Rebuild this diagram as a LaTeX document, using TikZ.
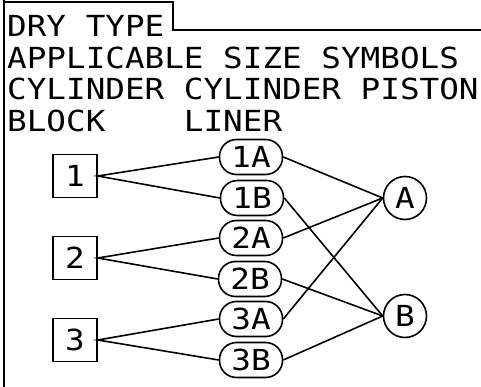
\documentclass[tikz,border=0pt]{standalone}
\usepackage{fontspec}
\newfontfamily\plotter[FakeStretch=1.125]{DejaVu Sans Mono}
\newcommand\lettering{\plotter\fontsize{29pt}{31.5pt}\selectfont}
\tikzset{
  textline/.style={anchor=base west, inner sep=0pt},
  blockbox/.style={draw, line width=1.6pt, minimum width=44pt, minimum height=43pt, inner sep=0pt},
  linerbox/.style={draw, line width=1.6pt, rounded corners=17pt, minimum width=63pt, minimum height=35pt, inner sep=0pt},
  pistonbox/.style={draw, circle, line width=1.6pt, minimum size=43pt, inner sep=0pt},
  wire/.style={line width=1.6pt}
}

\begin{document}
\begin{tikzpicture}[x=1pt, y=-1pt, font=\lettering]
    \useasboundingbox (0,0) rectangle (481,387);
    \draw[line width=2.2pt] (4,0) -- (4,387);
    \draw[line width=1.6pt] (4,2) -- (173,2) -- (173,30) -- (481,30);
    \node[textline] (title) at (7,37) {DRY TYPE};
    \node[textline] (applic) at (7,68.5) {APPLICABLE SIZE SYMBOLS};
    \node[textline] (parts) at (7,100) {CYLINDER CYLINDER PISTON};
    \node[textline] (kinds) at (7,131.5) {BLOCK\ \ \ \ LINER};
    \node[blockbox] (b1) at (75,176) {1};
    \node[blockbox] (b2) at (75,258) {2};
    \node[blockbox] (b3) at (75,340) {3};
    \node[linerbox] (l1a) at (251,157) {1A};
    \node[linerbox] (l1b) at (252,198) {1B};
    \node[linerbox] (l2a) at (251,238) {2A};
    \node[linerbox] (l2b) at (250,279) {2B};
    \node[linerbox] (l3a) at (251,319) {3A};
    \node[linerbox] (l3b) at (251,360) {3B};
    \node[pistonbox] (pa) at (405,198) {A};
    \node[pistonbox] (pb) at (405,316) {B};
    \draw[wire] (l1a.west) -- (b1.east) -- (l1b.west);
    \draw[wire] (l2a.west) -- (b2.east) -- (l2b.west);
    \draw[wire] (l3a.west) -- (b3.east) -- (l3b.west);
    \draw[wire] (l1a.east) -- (pa.west);
    \draw[wire] (l2a.east) -- (pa.west);
    \draw[wire] (l3a.east) -- (pa.west);
    \draw[wire] (l1b.east) -- (pb.west);
    \draw[wire] (l2b.east) -- (pb.west);
    \draw[wire] (l3b.east) -- (pb.west);
\end{tikzpicture}
\end{document}
